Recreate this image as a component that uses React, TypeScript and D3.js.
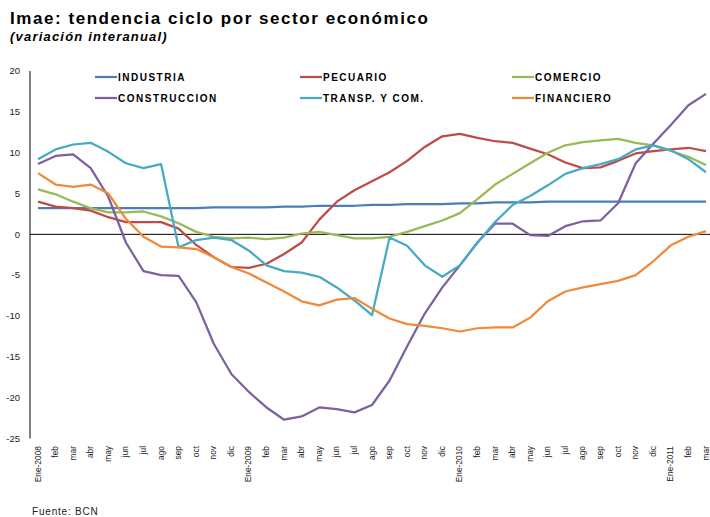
import React from "react";
import * as d3 from "d3";

const months = [
  "Ene-2008","feb","mar","abr","may","jun","jul","ago","sep","oct","nov","dic",
  "Ene-2009","feb","mar","abr","may","jun","jul","ago","sep","oct","nov","dic",
  "Ene-2010","feb","mar","abr","may","jun","jul","ago","sep","oct","nov","dic",
  "Ene-2011","feb","mar",
];

const industria = [
  3.2,3.2,3.2,3.2,3.2,3.2,3.2,3.2,3.2,3.2,
  3.3,3.3,3.3,3.3,3.4,3.4,3.5,3.5,3.5,3.6,
  3.6,3.7,3.7,3.7,3.8,3.8,3.9,3.9,3.9,4.0,
  4.0,4.0,4.0,4.0,4.0,4.0,4.0,4.0,4.0,
];
const pecuario = [
  4.0,3.4,3.2,2.9,2.1,1.5,1.5,1.5,0.7,-1.3,
  -2.8,-4.0,-4.1,-3.6,-2.4,-1.0,1.8,4.0,5.4,6.5,
  7.6,9.0,10.7,12.0,12.3,11.8,11.4,11.2,10.5,9.8,
  8.8,8.1,8.2,9.0,9.9,10.2,10.4,10.6,10.2,
];
const comercio = [
  5.5,4.9,4.0,3.2,2.7,2.7,2.8,2.2,1.35,0.3,
  -0.3,-0.5,-0.4,-0.6,-0.4,0.1,0.3,-0.1,-0.5,-0.5,
  -0.3,0.3,1.0,1.7,2.6,4.3,6.1,7.4,8.7,10.0,
  10.9,11.3,11.5,11.7,11.2,10.9,10.2,9.5,8.5,
];
const construccion = [
  8.6,9.6,9.8,8.1,4.6,-1.0,-4.5,-5.0,-5.1,-8.3,
  -13.4,-17.1,-19.3,-21.2,-22.7,-22.3,-21.2,-21.4,-21.8,-20.9,
  -17.9,-13.7,-9.7,-6.5,-3.8,-1.0,1.3,1.3,-0.1,-0.2,
  1.0,1.6,1.7,3.8,8.7,11.1,13.4,15.8,17.2,
];
const transporte = [
  9.2,10.4,11.0,11.2,10.1,8.7,8.1,8.6,-1.6,-0.7,
  -0.4,-0.7,-2.0,-3.8,-4.5,-4.7,-5.2,-6.5,-8.1,-9.9,
  -0.4,-1.4,-3.8,-5.2,-3.8,-1.0,1.5,3.6,4.7,6.0,
  7.4,8.1,8.6,9.2,10.4,10.9,10.3,9.2,7.6,
];
const financiero = [
  7.5,6.1,5.8,6.1,5.0,1.9,-0.3,-1.5,-1.6,-1.8,
  -2.8,-4.0,-4.8,-5.9,-7.0,-8.2,-8.7,-8.0,-7.8,-9.1,
  -10.3,-11.0,-11.2,-11.5,-11.9,-11.5,-11.4,-11.4,-10.2,-8.2,
  -7.0,-6.5,-6.1,-5.7,-5.0,-3.3,-1.35,-0.3,0.4,
];

const seriesNames = ["INDUSTRIA","PECUARIO","COMERCIO","CONSTRUCCION","TRANSP. Y COM.","FINANCIERO"];
const seriesValues = [industria, pecuario, comercio, construccion, transporte, financiero];
const seriesColors = ["#4A7EBB","#BE4B48","#98B954","#7D60A0","#46AAC5","#F0893A"];
const yTicks = [20,15,10,5,0,-5,-10,-15,-20,-25];

export default function App() {
  const W = 710, H = 517;
  const x = d3.scalePoint<number>().domain(d3.range(months.length)).range([38, 706]);
  const y = d3.scaleLinear().domain([-25, 20]).range([438.5, 71]);
  const line = d3.line<number>().x((_, i) => x(i) as number).y((v) => y(v));

  const legCols = [95, 300, 512];
  const legRows = [77, 98];

  const font = "'Liberation Sans', Arial, sans-serif";

  return (
    <svg width={W} height={H} style={{ position: "absolute", left: 0, top: 0, background: "#fff" }}>
      <text x={10} y={24} fontFamily={font} fontWeight="bold" fontSize={17} letterSpacing={1.55} fill="#000">
        Imae: tendencia ciclo por sector económico
      </text>
      <text x={10} y={41} fontFamily={font} fontWeight="bold" fontStyle="italic" fontSize={13} letterSpacing={1.2} fill="#000">
        (variación interanual)
      </text>

      {/* y axis */}
      <line x1={30} x2={30} y1={y(20)} y2={y(-25)} stroke="#000" strokeWidth={1} />
      {yTicks.map((t) => (
        <text key={t} x={20} y={y(t)} dy="0.35em" textAnchor="end" fontFamily={font} fontSize={9.5} fill="#222">
          {t}
        </text>
      ))}

      {/* zero line */}
      <line x1={30} x2={W} y1={y(0)} y2={y(0)} stroke="#000" strokeWidth={1} />

      {/* x labels */}
      {months.map((m, i) => (
        <text
          key={i}
          transform={`translate(${x(i)},446) rotate(-90)`}
          dy="0.3em"
          textAnchor="end"
          fontFamily={font}
          fontSize={8.4}
          fill="#222"
        >
          {m}
        </text>
      ))}

      {/* series */}
      {seriesValues.map((vals, k) => (
        <path key={k} d={line(vals) || ""} fill="none" stroke={seriesColors[k]} strokeWidth={2.25} strokeLinejoin="round" />
      ))}

      {/* legend */}
      {seriesNames.map((n, k) => {
        const cx = legCols[k % 3];
        const cy = legRows[Math.floor(k / 3)];
        return (
          <g key={n}>
            <line x1={cx} x2={cx + 22} y1={cy} y2={cy} stroke={seriesColors[k]} strokeWidth={2.25} />
            <text x={cx + 23} y={cy} dy="0.35em" fontFamily={font} fontWeight="bold" fontSize={10} letterSpacing={1.5} fill="#000">
              {n}
            </text>
          </g>
        );
      })}

      <text x={32} y={515} fontFamily={font} fontSize={10} letterSpacing={0.8} fill="#222">
        Fuente: BCN
      </text>
    </svg>
  );
}
